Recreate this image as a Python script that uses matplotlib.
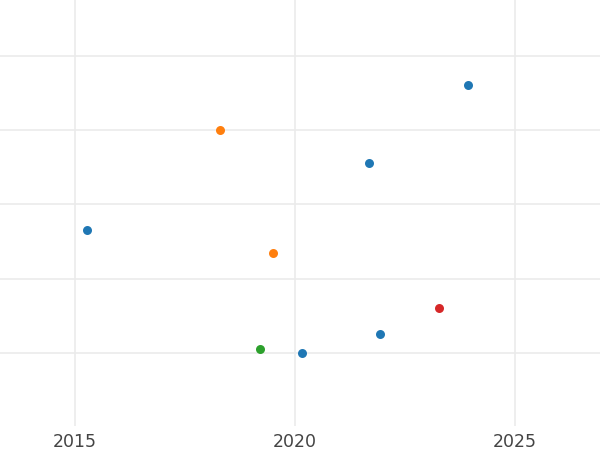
import matplotlib
matplotlib.use("Agg")
import matplotlib.pyplot as plt

# data
groups = ["A", "B", "C", "D"]
colors = ["#1f77b4", "#ff7f0e", "#2ca02c", "#d62728"]
years = {
    "A": [2015.28, 2021.68, 2023.93, 2021.93, 2020.15],
    "B": [2018.30, 2019.51],
    "C": [2019.20],
    "D": [2023.27],
}
values = {
    "A": [2.66, 3.56, 4.61, 1.26, 1.0],
    "B": [4.0, 2.35],
    "C": [1.05],
    "D": [1.61],
}
xticks = [2015, 2020, 2025]
yticks = [1, 2, 3, 4, 5]

fig = plt.figure(figsize=(6, 4.5), dpi=100)
ax = fig.add_axes([0, 0.0533, 1, 0.9467])

for g, c in zip(groups, colors):
    ax.scatter(years[g], values[g], s=42, color=c, zorder=3, linewidths=0)

ax.set_xlim(2013.3, 2026.93)
ax.set_ylim(0.02, 5.75)
ax.set_xticks(xticks)
ax.set_xticklabels([str(t) for t in xticks])
ax.set_yticks(yticks)
ax.set_yticklabels([])
ax.grid(True, color="#ebebeb", linewidth=1.2, zorder=0)
ax.tick_params(length=0, labelsize=12.5, labelcolor="#444444", pad=5)
for s in ax.spines.values():
    s.set_visible(False)

fig.savefig("out.png", dpi=100)
